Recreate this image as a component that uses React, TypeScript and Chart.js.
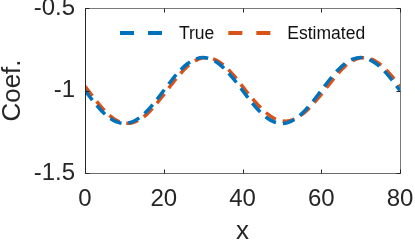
import React, { useEffect, useRef } from "react";
import { Chart, registerables } from "chart.js";

Chart.register(...registerables);

const xValues = [0, 2, 4, 6, 8, 10, 12, 14, 16, 18, 20, 22, 24, 26, 28, 30, 32, 34, 36, 38, 40, 42, 44, 46, 48, 50, 52, 54, 56, 58, 60, 62, 64, 66, 68, 70, 72, 74, 76, 78, 80];
const trueValues = [-1, -1.062, -1.118, -1.162, -1.19, -1.2, -1.19, -1.162, -1.118, -1.062, -1, -0.938, -0.882, -0.838, -0.81, -0.8, -0.81, -0.838, -0.882, -0.938, -1, -1.062, -1.118, -1.162, -1.19, -1.2, -1.19, -1.162, -1.118, -1.062, -1, -0.938, -0.882, -0.838, -0.81, -0.8, -0.81, -0.838, -0.882, -0.938, -1];
const estimatedValues = [-0.975, -1.037, -1.096, -1.146, -1.181, -1.198, -1.196, -1.175, -1.137, -1.085, -1.025, -0.963, -0.904, -0.854, -0.819, -0.802, -0.804, -0.825, -0.863, -0.915, -0.975, -1.035, -1.089, -1.135, -1.168, -1.184, -1.183, -1.163, -1.128, -1.08, -1.024, -0.963, -0.904, -0.854, -0.819, -0.802, -0.804, -0.825, -0.863, -0.915, -0.975];
const seriesLabels = ["True", "Estimated"];
const seriesColors = ["#0072BD", "#D95319"];
const xTicks = [0, 20, 40, 60, 80];
const yTicks = [-1.5, -1, -0.5];

const FONT = "'Liberation Sans', Arial, Helvetica, sans-serif";
const AXIS_COLOR = "#262626";

const framePlugin = {
  id: "matlabFrame",
  afterDatasetsDraw(chart: any) {
    const { ctx, chartArea } = chart;
    const { left, right, top, bottom } = chartArea;
    const xs = chart.scales.x;
    const ys = chart.scales.y;
    const L = Math.round(left) + 0.5;
    const R = Math.round(right) + 0.5;
    const T = Math.round(top) + 0.5;
    const B = Math.round(bottom) + 0.5;
    ctx.save();
    ctx.setLineDash([]);
    ctx.lineWidth = 1;
    // top & right border (lighter)
    ctx.strokeStyle = "#7a7a7a";
    ctx.beginPath();
    ctx.moveTo(L, T);
    ctx.lineTo(R, T);
    ctx.lineTo(R, B);
    ctx.stroke();
    // bottom border
    ctx.strokeStyle = "#6a6a6a";
    ctx.beginPath();
    ctx.moveTo(L, B);
    ctx.lineTo(R, B);
    ctx.stroke();
    // left axis line
    ctx.strokeStyle = AXIS_COLOR;
    ctx.beginPath();
    ctx.moveTo(L, T);
    ctx.lineTo(L, B);
    ctx.stroke();
    // inward ticks
    const tl = 4;
    ctx.strokeStyle = AXIS_COLOR;
    ctx.beginPath();
    xTicks.forEach((v) => {
      const px = Math.round(xs.getPixelForValue(v)) + 0.5;
      ctx.moveTo(px, B);
      ctx.lineTo(px, B - tl);
      ctx.moveTo(px, T);
      ctx.lineTo(px, T + tl);
    });
    yTicks.forEach((v) => {
      const py = Math.round(ys.getPixelForValue(v)) + 0.5;
      ctx.moveTo(L, py);
      ctx.lineTo(L + tl, py);
      ctx.moveTo(R, py);
      ctx.lineTo(R - tl, py);
    });
    ctx.stroke();

    // legend inside plot
    const legendY = 33;
    const items = chart.data.datasets.map((d: any) => ({ label: d.label, color: d.borderColor }));
    ctx.font = `17.5px ${FONT}`;
    ctx.textBaseline = "middle";
    ctx.textAlign = "left";
    const sampleW = 43;
    const gapAfterSample = 16;
    const gapBetween = 14;
    let x = 120;
    items.forEach((it: any) => {
      ctx.strokeStyle = it.color;
      ctx.lineWidth = 4;
      ctx.setLineDash([14, 14]);
      ctx.beginPath();
      ctx.moveTo(x, legendY);
      ctx.lineTo(x + sampleW, legendY);
      ctx.stroke();
      ctx.setLineDash([]);
      ctx.fillStyle = "#111111";
      ctx.fillText(it.label, x + sampleW + gapAfterSample, legendY + 1);
      x += sampleW + gapAfterSample + ctx.measureText(it.label).width + gapBetween;
    });
    ctx.restore();
  },
};

export default function App() {
  const ref = useRef<HTMLCanvasElement | null>(null);
  useEffect(() => {
    if (!ref.current) return;
    const chart = new Chart(ref.current, {
      type: "line",
      data: {
        datasets: [
          {
            label: seriesLabels[0],
            data: xValues.map((x, i) => ({ x, y: trueValues[i] })),
            borderColor: seriesColors[0],
            borderWidth: 3.5,
            borderDash: [12, 7],
            pointRadius: 0,
            fill: false,
            tension: 0.3,
          },
          {
            label: seriesLabels[1],
            data: xValues.map((x, i) => ({ x, y: estimatedValues[i] })),
            borderColor: seriesColors[1],
            borderWidth: 3.5,
            borderDash: [12, 7],
            pointRadius: 0,
            fill: false,
            tension: 0.3,
          },
        ],
      },
      options: {
        responsive: false,
        animation: false,
        layout: { padding: { left: 0, top: 8, right: 15, bottom: 0 } },
        plugins: { legend: { display: false }, tooltip: { enabled: false } },
        scales: {
          x: {
            type: "linear",
            min: 0,
            max: 80,
            afterBuildTicks: (s: any) => {
              s.ticks = xTicks.map((v) => ({ value: v }));
            },
            afterFit: (s: any) => {
              s.height = 68;
              s.paddingLeft = 0;
              s.paddingRight = 0;
            },
            grid: { display: false, drawTicks: false },
            border: { display: false },
            ticks: {
              color: AXIS_COLOR,
              font: { family: FONT, size: 24 },
              padding: 12,
              maxRotation: 0,
              autoSkip: false,
              callback: (v: any) => String(v),
            },
            title: {
              display: true,
              text: "x",
              color: AXIS_COLOR,
              font: { family: FONT, size: 26, lineHeight: 0.7 },
              padding: { top: 0, bottom: 0 },
            },
          },
          y: {
            type: "linear",
            min: -1.5,
            max: -0.5,
            afterBuildTicks: (s: any) => {
              s.ticks = yTicks.map((v) => ({ value: v }));
            },
            afterFit: (s: any) => {
              s.width = 85;
              s.paddingTop = 0;
              s.paddingBottom = 0;
            },
            grid: { display: false, drawTicks: false },
            border: { display: false },
            ticks: {
              color: AXIS_COLOR,
              font: { family: FONT, size: 24 },
              padding: 10,
              autoSkip: false,
              callback: (v: any) => String(v),
            },
            title: {
              display: true,
              text: "Coef.",
              color: AXIS_COLOR,
              font: { family: FONT, size: 26, lineHeight: 1 },
              padding: { top: 0, bottom: 0 },
            },
          },
        },
      },
      plugins: [framePlugin],
    });
    return () => chart.destroy();
  }, []);
  return (
    <div style={{ position: "fixed", left: 0, top: 0, width: 415, height: 241, background: "#ffffff" }}>
      <canvas ref={ref} width={415} height={241} style={{ display: "block" }} />
    </div>
  );
}
